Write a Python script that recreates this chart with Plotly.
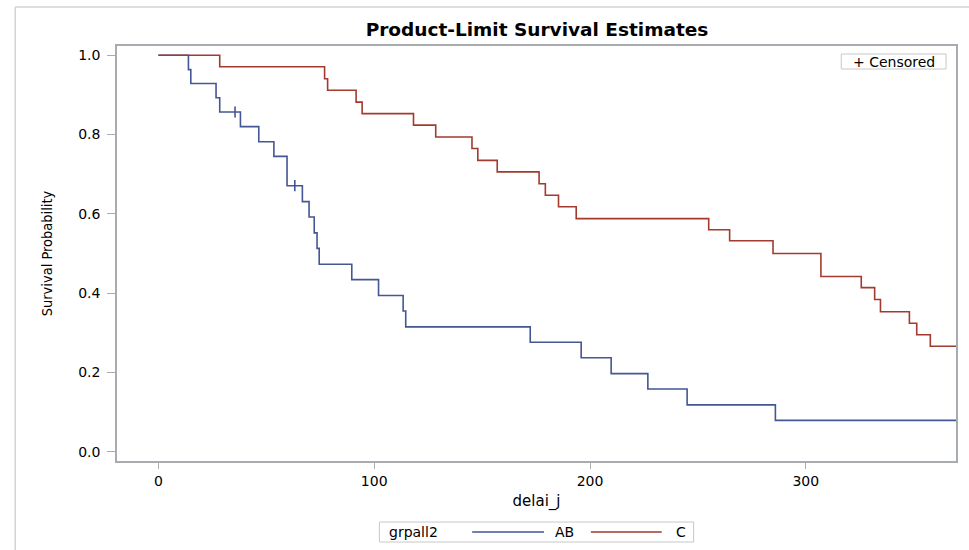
import plotly.graph_objects as go

# ---- data ----
ab_time = [0, 13.9, 15.0, 26.7, 28.4, 38.0, 46.5, 53.5, 59.6, 66.7, 69.8, 72.2, 73.5, 74.5,
           89.6, 102.0, 113.4, 114.6, 172.3, 195.9, 209.8, 226.8, 245.0, 285.9, 372.0]
ab_surv = [1.0, 0.964, 0.929, 0.893, 0.857, 0.820, 0.782, 0.745, 0.671, 0.631, 0.592, 0.552,
           0.513, 0.473, 0.434, 0.394, 0.355, 0.315, 0.276, 0.237, 0.197, 0.158, 0.118, 0.079, 0.079]
ab_cens_time = [35.5, 63.2]
ab_cens_surv = [0.857, 0.671]

c_time = [0, 28.4, 77.0, 78.4, 91.6, 94.4, 118.2, 128.5, 145.3, 148.0, 157.0, 176.4, 179.3,
          185.4, 193.6, 255.0, 264.7, 284.8, 307.0, 325.7, 331.9, 334.6, 348.0, 351.4, 357.7, 372.0]
c_surv = [1.0, 0.971, 0.941, 0.912, 0.882, 0.853, 0.824, 0.794, 0.765, 0.735, 0.706, 0.676,
          0.647, 0.618, 0.588, 0.560, 0.532, 0.500, 0.442, 0.414, 0.384, 0.353, 0.324, 0.295,
          0.266, 0.266]

x_ticks = [0, 100, 200, 300]
y_ticks = [0.0, 0.2, 0.4, 0.6, 0.8, 1.0]
group_title = "grpall2"
group_names = ["AB", "C"]

BLUE = "#445694"
RED = "#A23A2E"
AXC = "#A8ABAF"
FONT = "DejaVu Sans, Liberation Sans, Arial, sans-serif"

fig = go.Figure()
fig.add_trace(go.Scatter(x=ab_time, y=ab_surv, mode="lines", line_shape="hv",
                         line=dict(color=BLUE, width=1.6), name=group_names[0], showlegend=False))
fig.add_trace(go.Scatter(x=c_time, y=c_surv, mode="lines", line_shape="hv",
                         line=dict(color=RED, width=1.6), name=group_names[1], showlegend=False))
fig.add_trace(go.Scatter(x=ab_cens_time, y=ab_cens_surv, mode="markers",
                         marker=dict(symbol="line-ns", size=8, line=dict(color=BLUE, width=1.6)),
                         showlegend=False))

W, H = 969, 550
L, R, T, B = 117, 11, 46, 89
pw, ph = W - L - R, H - T - B

def px(x):
    return (x - L) / pw

def py(y):
    return (H - B - y) / ph

fig.update_layout(
    width=W, height=H,
    margin=dict(l=L, r=R, t=T, b=B),
    paper_bgcolor="white", plot_bgcolor="white",
    font=dict(family=FONT, size=14, color="#000000"),
    title=dict(text="<b>Product-Limit Survival Estimates</b>", x=px(538), xanchor="center",
               xref="paper", y=1 - 30 / H, yanchor="middle",
               font=dict(family=FONT, size=18.5, color="#000000")),
    xaxis=dict(range=[-19.2, 369.6], tickvals=x_ticks, ticktext=[str(v) for v in x_ticks],
               showgrid=False, zeroline=False, showline=True, mirror=True,
               linecolor=AXC, linewidth=1.5, ticks="outside", ticklen=6, tickcolor=AXC,
               tickwidth=1.2, tickfont=dict(size=14),
               title=dict(text="delai_j", font=dict(size=15), standoff=8)),
    yaxis=dict(range=[-0.0235, 1.0235], tickvals=y_ticks, ticktext=[f"{v:.1f}" for v in y_ticks],
               showgrid=False, zeroline=False, showline=True, mirror=True,
               linecolor=AXC, linewidth=1.5, ticks="outside", ticklen=8, tickcolor=AXC,
               tickwidth=1.2, tickfont=dict(size=14), ticklabelstandoff=4,
               title=dict(text="Survival Probability",
                          font=dict(family="Liberation Sans Narrow, Arial Narrow, DejaVu Sans Condensed, sans-serif", size=14.5),
                          standoff=22)),
)

shapes = []
# outer frame (top and left edges visible)
shapes.append(dict(type="line", xref="paper", yref="paper", x0=px(15), x1=px(975), y0=py(7), y1=py(7),
                   line=dict(color="#D3D3D3", width=1.5)))
shapes.append(dict(type="line", xref="paper", yref="paper", x0=px(15), x1=px(15), y0=py(7), y1=py(560),
                   line=dict(color="#D3D3D3", width=1.5)))
# censored box
shapes.append(dict(type="rect", xref="paper", yref="paper", x0=px(843), x1=px(948), y0=py(54), y1=py(69),
                   line=dict(color="#C8C8C8", width=1), fillcolor="white"))
# bottom legend box
shapes.append(dict(type="rect", xref="paper", yref="paper", x0=px(380), x1=px(695), y0=py(522), y1=py(542),
                   line=dict(color="#C8C8C8", width=1), fillcolor="white"))
shapes.append(dict(type="line", xref="paper", yref="paper", x0=px(473), x1=px(545), y0=py(532), y1=py(532),
                   line=dict(color=BLUE, width=1.5)))
shapes.append(dict(type="line", xref="paper", yref="paper", x0=px(592), x1=px(663), y0=py(532), y1=py(532),
                   line=dict(color=RED, width=1.5)))
fig.update_layout(shapes=shapes)

ann = []
ann.append(dict(text="+ Censored", xref="paper", yref="paper", x=px(896), y=py(61.5),
                xanchor="center", yanchor="middle", showarrow=False, font=dict(size=14)))
ann.append(dict(text=group_title, xref="paper", yref="paper", x=px(388), y=py(532),
                xanchor="left", yanchor="middle", showarrow=False, font=dict(size=14)))
ann.append(dict(text=group_names[0], xref="paper", yref="paper", x=px(554), y=py(532),
                xanchor="left", yanchor="middle", showarrow=False, font=dict(size=14)))
ann.append(dict(text=group_names[1], xref="paper", yref="paper", x=px(675), y=py(532),
                xanchor="left", yanchor="middle", showarrow=False, font=dict(size=14)))
fig.update_layout(annotations=ann)

fig.write_html("out.html", config={"displayModeBar": False},
               post_script="document.body.style.margin='0px';document.body.style.overflow='hidden';")
